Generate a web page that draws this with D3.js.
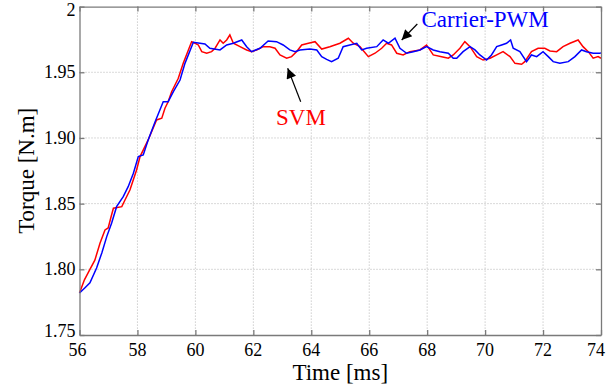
<!DOCTYPE html>
<html>
<head>
<meta charset="utf-8">
<script src="https://cdn.jsdelivr.net/npm/d3@7"></script>
<style>
  body { margin: 0; background: #fff; }
</style>
</head>
<body>
<div id="chart"></div>
<script>
const serif = "Liberation Serif";

// x ticks (ms) and y ticks (N.m)
const xTicks = [56, 58, 60, 62, 64, 66, 68, 70, 72, 74];
const yTicks = [1.75, 1.80, 1.85, 1.90, 1.95, 2];
const yTickLabels = ["1.75", "1.80", "1.85", "1.90", "1.95", "2"];

// SVM (red) - time [ms]
const svmTime = [56.00, 56.17, 56.36, 56.53, 56.71, 56.88, 56.99, 57.09, 57.17, 57.46, 57.57, 57.74, 57.97,
  58.09, 58.37, 58.66, 58.84, 58.95, 59.06, 59.18, 59.41, 59.58, 59.87, 59.99, 60.10, 60.22, 60.39, 60.56,
  60.68, 60.85, 60.96, 61.08, 61.19, 61.31, 61.54, 61.77, 61.94, 62.11, 62.34, 62.57, 62.75, 62.92, 63.15,
  63.32, 63.49, 63.67, 63.90, 64.13, 64.36, 64.64, 64.99, 65.28, 65.45, 65.68, 65.97, 66.20, 66.43, 66.60,
  66.77, 66.95, 67.17, 67.40, 67.75, 67.98, 68.21, 68.50, 68.73, 68.90, 69.13, 69.30, 69.48, 69.71, 69.93,
  70.17, 70.40, 70.62, 70.86, 71.03, 71.26, 71.37, 71.60, 71.83, 72.06, 72.24, 72.47, 72.69, 72.93, 73.21,
  73.38, 73.56, 73.73, 73.90, 74.00];
// SVM torque [N.m]
const svmTorque = [1.782, 1.792, 1.800, 1.807, 1.820, 1.830, 1.8315, 1.840, 1.8465, 1.8477, 1.8528, 1.8604, 1.8756,
  1.8858, 1.8985, 1.9137, 1.915, 1.9226, 1.9276, 1.9352, 1.9454, 1.9568, 1.9733, 1.9721, 1.9708, 1.9657, 1.9645, 1.9657,
  1.9683, 1.9746, 1.9721, 1.9746, 1.9784, 1.9721, 1.9695, 1.967, 1.9657, 1.967, 1.9695, 1.9695, 1.9683, 1.9632, 1.9607,
  1.9619, 1.9657, 1.9708, 1.9721, 1.9733, 1.9677, 1.9695, 1.9721, 1.9759, 1.9721, 1.9695, 1.9619, 1.9645, 1.9683, 1.9721,
  1.9708, 1.9645, 1.9632, 1.9657, 1.967, 1.9708, 1.9632, 1.9619, 1.9607, 1.9632, 1.9683, 1.9733, 1.9695, 1.9619, 1.9593,
  1.9607, 1.9632, 1.9657, 1.9619, 1.9568, 1.9561, 1.9581, 1.9657, 1.9683, 1.9683, 1.9662, 1.9657, 1.9695, 1.9721, 1.9746,
  1.9695, 1.9657, 1.9607, 1.9619, 1.9607];

// Carrier-PWM (blue) - time [ms]
const pwmTime = [56.00, 56.19, 56.36, 56.59, 56.77, 56.94, 57.11, 57.28, 57.51, 57.68, 57.86, 58.03, 58.20,
  58.37, 58.61, 58.89, 59.06, 59.24, 59.47, 59.64, 59.93, 60.04, 60.16, 60.33, 60.50, 60.85, 61.08, 61.31,
  61.60, 61.77, 61.94, 62.23, 62.51, 62.80, 63.03, 63.26, 63.44, 63.61, 63.95, 64.19, 64.36, 64.53, 64.70,
  64.93, 65.10, 65.33, 65.57, 65.74, 65.91, 66.26, 66.48, 66.66, 66.89, 67.06, 67.29, 67.52, 67.75, 67.98,
  68.21, 68.44, 68.73, 68.90, 69.02, 69.24, 69.48, 69.65, 69.82, 70.05, 70.22, 70.40, 70.57, 70.74, 70.88,
  70.97, 71.20, 71.43, 71.60, 71.78, 72.00, 72.18, 72.35, 72.58, 72.87, 73.10, 73.33, 73.50, 73.73, 73.96, 74.00];
// Carrier-PWM torque [N.m]
const pwmTorque = [1.782, 1.786, 1.7897, 1.801, 1.8125, 1.8249, 1.8353, 1.8477, 1.8553, 1.8629, 1.8731, 1.8858, 1.8871,
  1.8985, 1.9124, 1.9276, 1.9276, 1.9352, 1.9441, 1.9568, 1.9728, 1.9725, 1.9721, 1.9715, 1.9683, 1.967, 1.9708, 1.9721,
  1.9746, 1.9695, 1.9657, 1.9683, 1.9738, 1.9733, 1.9708, 1.967, 1.9657, 1.967, 1.9677, 1.967, 1.9619, 1.9598, 1.9581,
  1.9607, 1.9695, 1.9708, 1.9721, 1.967, 1.9683, 1.9695, 1.9746, 1.9721, 1.9759, 1.9683, 1.9645, 1.9657, 1.967, 1.9695,
  1.967, 1.9657, 1.9645, 1.9607, 1.9607, 1.9657, 1.9695, 1.967, 1.9632, 1.9593, 1.9632, 1.9695, 1.9708, 1.9721, 1.9746,
  1.9683, 1.9657, 1.9581, 1.9632, 1.9619, 1.9657, 1.9619, 1.9581, 1.9568, 1.9581, 1.9619, 1.967, 1.9657, 1.9645, 1.9645, 1.9648];

const margin = { top: 6.6, left: 79.5, bottom: 55, right: 13 };
const W = 614, H = 390;
const width = W - margin.left - margin.right;
const height = 335 - margin.top;

const svg = d3.select("#chart").append("svg")
  .attr("width", W)
  .attr("height", H);

const g = svg.append("g").attr("transform", `translate(${margin.left},${margin.top})`);

const x = d3.scaleLinear().domain([56, 74]).range([0, width]);
const y = d3.scaleLinear().domain([1.75, 2]).range([height, 0]);

// grid
g.append("g")
  .selectAll("line.vgrid")
  .data(xTicks.slice(1, -1))
  .enter().append("line")
  .attr("x1", d => x(d)).attr("x2", d => x(d))
  .attr("y1", 0).attr("y2", height)
  .attr("stroke", "#b4b4b4")
  .attr("stroke-dasharray", "1,2");

g.append("g")
  .selectAll("line.hgrid")
  .data(yTicks.slice(1, -1))
  .enter().append("line")
  .attr("y1", d => y(d)).attr("y2", d => y(d))
  .attr("x1", 0).attr("x2", width)
  .attr("stroke", "#b4b4b4")
  .attr("stroke-dasharray", "1,2");

// data lines
const line = d3.line()
  .x(d => x(d[0]))
  .y(d => y(d[1]));

const svmData = svmTime.map((t, i) => [t, svmTorque[i]]);
const pwmData = pwmTime.map((t, i) => [t, pwmTorque[i]]);

g.append("path")
  .datum(svmData)
  .attr("d", line)
  .attr("fill", "none")
  .attr("stroke", "#ff0000")
  .attr("stroke-width", 1.5);

g.append("path")
  .datum(pwmData)
  .attr("d", line)
  .attr("fill", "none")
  .attr("stroke", "#0000ff")
  .attr("stroke-width", 1.5);

// axes (inward ticks, mirrored on top/right) - labels drawn separately
const axisColor = "#7a7a7a";

g.append("g")
  .attr("transform", `translate(0,${height})`)
  .call(d3.axisBottom(x).tickValues(xTicks).tickSize(-5).tickSizeOuter(0).tickFormat(""));
g.append("g")
  .call(d3.axisTop(x).tickValues(xTicks).tickSize(-5).tickSizeOuter(0).tickFormat(""));
g.append("g")
  .call(d3.axisLeft(y).tickValues(yTicks).tickSize(-5).tickSizeOuter(0).tickFormat(""));
g.append("g")
  .attr("transform", `translate(${width},0)`)
  .call(d3.axisRight(y).tickValues(yTicks).tickSize(-5).tickSizeOuter(0).tickFormat(""));

g.selectAll(".domain").attr("stroke", axisColor).attr("stroke-width", 1.3);
g.selectAll(".tick line").attr("stroke", axisColor).attr("stroke-width", 1.3);
g.selectAll(".tick text").remove();

// tick labels
g.append("g")
  .selectAll("text")
  .data(xTicks)
  .enter().append("text")
  .attr("x", (d, i) => x(d) + (i === 0 ? -2 : (i === xTicks.length - 1 ? -5 : 0)))
  .attr("y", height + 21)
  .attr("text-anchor", "middle")
  .attr("font-family", serif)
  .attr("font-size", 18)
  .attr("fill", "#000")
  .text(d => d);

g.append("g")
  .selectAll("text")
  .data(yTicks)
  .enter().append("text")
  .attr("x", -4)
  .attr("y", (d, i) => y(d) + (i === 0 ? -3.5 : (i === yTicks.length - 1 ? 3 : 0)))
  .attr("dy", "0.33em")
  .attr("text-anchor", "end")
  .attr("font-family", serif)
  .attr("font-size", 18)
  .attr("fill", "#000")
  .text((d, i) => yTickLabels[i]);

// axis labels
svg.append("text")
  .attr("x", margin.left + width / 2)
  .attr("y", 380)
  .attr("text-anchor", "middle")
  .attr("font-family", serif)
  .attr("font-size", 23)
  .text("Time [ms]");

svg.append("text")
  .attr("transform", `translate(34,${margin.top + height / 2}) rotate(-90)`)
  .attr("text-anchor", "middle")
  .attr("font-family", serif)
  .attr("font-size", 23)
  .text("Torque [N.m]");

// annotations
svg.append("defs").append("marker")
  .attr("id", "arrow")
  .attr("viewBox", "0 0 10 10")
  .attr("refX", 10).attr("refY", 5)
  .attr("markerWidth", 16).attr("markerHeight", 10)
  .attr("markerUnits", "userSpaceOnUse")
  .attr("orient", "auto")
  .append("path")
  .attr("d", "M0,0 L10,5 L0,10 z")
  .attr("fill", "#000");

svg.append("line")
  .attr("x1", 300.7).attr("y1", 101.7)
  .attr("x2", 287.7).attr("y2", 68.3)
  .attr("stroke", "#000").attr("stroke-width", 1.2)
  .attr("marker-end", "url(#arrow)");

svg.append("text")
  .attr("x", 276).attr("y", 125)
  .attr("font-family", serif)
  .attr("font-size", 23)
  .attr("fill", "#ff0000")
  .text("SVM");

svg.append("line")
  .attr("x1", 417.3).attr("y1", 24)
  .attr("x2", 401.7).attr("y2", 40)
  .attr("stroke", "#000").attr("stroke-width", 1.2)
  .attr("marker-end", "url(#arrow)");

svg.append("text")
  .attr("x", 421.5).attr("y", 27.3)
  .attr("font-family", serif)
  .attr("font-size", 23)
  .attr("fill", "#0000ff")
  .text("Carrier-PWM");
</script>
</body>
</html>
